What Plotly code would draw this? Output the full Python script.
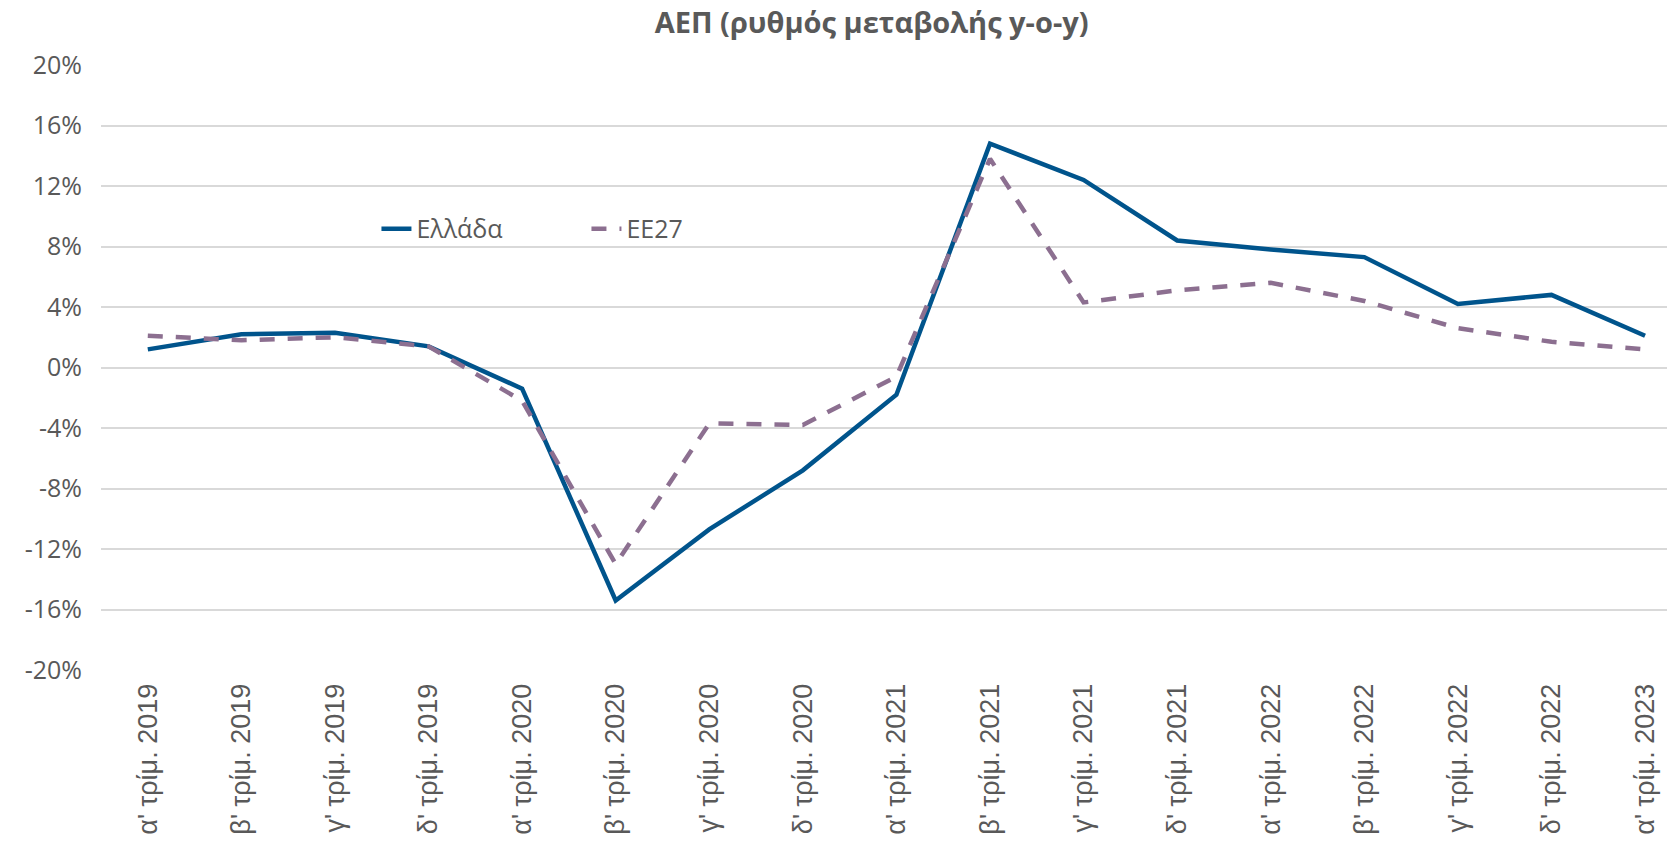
import plotly.graph_objects as go

categories = ["α' τρίμ. 2019", "β' τρίμ. 2019", "γ' τρίμ. 2019", "δ' τρίμ. 2019",
              "α' τρίμ. 2020", "β' τρίμ. 2020", "γ' τρίμ. 2020", "δ' τρίμ. 2020",
              "α' τρίμ. 2021", "β' τρίμ. 2021", "γ' τρίμ. 2021", "δ' τρίμ. 2021",
              "α' τρίμ. 2022", "β' τρίμ. 2022", "γ' τρίμ. 2022", "δ' τρίμ. 2022",
              "α' τρίμ. 2023"]
greece = [1.2, 2.2, 2.3, 1.4, -1.4, -15.4, -10.7, -6.8, -1.8, 14.8, 12.4, 8.4, 7.8, 7.3, 4.2, 4.8, 2.1]
eu27 = [2.1, 1.8, 2.0, 1.4, -2.2, -13.0, -3.7, -3.8, -0.6, 13.8, 4.3, 5.1, 5.6, 4.4, 2.6, 1.7, 1.2]
y_ticks = [-20, -16, -12, -8, -4, 0, 4, 8, 12, 16, 20]
y_labels = [f"{v}%" for v in y_ticks]

x_idx = list(range(len(categories)))

fig = go.Figure()
fig.add_trace(go.Scatter(x=x_idx, y=greece, mode="lines", name="Ελλάδα",
                         line=dict(color="#00548C", width=4.5)))
fig.add_trace(go.Scatter(x=x_idx, y=eu27, mode="lines", name="ΕΕ27",
                         line=dict(color="#8C6F90", width=4.5, dash="15px,13px")))

fig.update_layout(
    width=1675, height=843,
    paper_bgcolor="white", plot_bgcolor="white",
    margin=dict(l=93, r=8, t=57, b=181),
    title=dict(text="<b>ΑΕΠ (ρυθμός μεταβολής y-o-y)</b>", x=0.5156, xanchor="center",
               y=0.995, yanchor="top", pad=dict(t=0, b=0),
               font=dict(family="Open Sans", size=29, color="#595959")),
    showlegend=True,
    legend=dict(orientation="h", x=0.175, y=0.729, xanchor="left", yanchor="middle",
                font=dict(family="Open Sans", size=25, color="#595959"),
                bgcolor="rgba(0,0,0,0)", entrywidth=165, entrywidthmode="pixels"),
    xaxis=dict(tickmode="array", tickvals=x_idx, ticktext=categories,
               range=[-0.5, 16.32], tickangle=-90, showgrid=False, zeroline=False,
               showline=False, ticks="outside", ticklen=2, tickcolor="rgba(0,0,0,0)",
               automargin=False,
               tickfont=dict(family="Liberation Sans", size=27, color="#595959")),
    yaxis=dict(range=[-20, 20], tickmode="array", tickvals=y_ticks, ticktext=y_labels,
               showgrid=True, gridcolor="#D9D9D9", gridwidth=1.5, zeroline=False,
               showline=False, ticks="outside", ticklen=13, tickcolor="rgba(0,0,0,0)",
               automargin=False,
               tickfont=dict(family="Open Sans", size=25, color="#595959")),
)

fig.write_html("out.html")
